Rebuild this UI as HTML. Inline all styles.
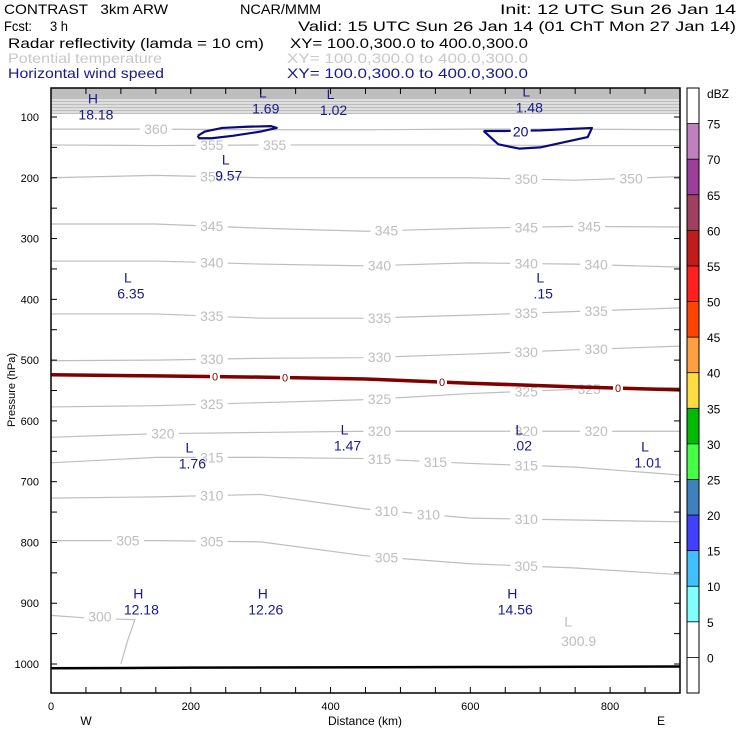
<!DOCTYPE html>
<html><head><meta charset="utf-8"><style>
body{margin:0;background:#fff;}
svg{display:block;font-family:"Liberation Sans",sans-serif;}
svg text{white-space:pre;}
</style></head><body>
<svg id="chart" width="740" height="740" xmlns="http://www.w3.org/2000/svg">
<g font-size="14" lengthAdjust="spacingAndGlyphs">
<text x="4" y="14" textLength="164" lengthAdjust="spacingAndGlyphs">CONTRAST   3km ARW</text>
<text x="240" y="14" textLength="81" lengthAdjust="spacingAndGlyphs">NCAR/MMM</text>
<text x="500" y="14" textLength="236" lengthAdjust="spacingAndGlyphs">Init: 12 UTC Sun 26 Jan 14</text>
<text x="4" y="31" textLength="64" lengthAdjust="spacingAndGlyphs">Fcst:     3 h</text>
<text x="298" y="31" textLength="438" lengthAdjust="spacingAndGlyphs">Valid: 15 UTC Sun 26 Jan 14 (01 ChT Mon 27 Jan 14)</text>
<text x="8" y="48" textLength="256" lengthAdjust="spacingAndGlyphs">Radar reflectivity (lamda = 10 cm)</text>
<text x="290" y="48" textLength="238" lengthAdjust="spacingAndGlyphs">XY= 100.0,300.0 to 400.0,300.0</text>
<text x="8" y="63" fill="#c8c8c8" textLength="154" lengthAdjust="spacingAndGlyphs">Potential temperature</text>
<text x="287" y="63" fill="#c8c8c8" textLength="241" lengthAdjust="spacingAndGlyphs">XY= 100.0,300.0 to 400.0,300.0</text>
<text x="8" y="78" fill="#1a1a8c" textLength="156" lengthAdjust="spacingAndGlyphs">Horizontal wind speed</text>
<text x="287" y="78" fill="#1a1a8c" textLength="241" lengthAdjust="spacingAndGlyphs">XY= 100.0,300.0 to 400.0,300.0</text>
</g>
<g id="plot"></g>
<g id="cbar"></g>
</svg>
<script>
const xKm = [0,150,300,450,600,750,900];
const thetaLevels = [360,355,350,345,340,335,330,325,320,315,310,305];
const th360 = [120,120,121,121,120,120,121];
const th355 = [146,147,146,146,146,147,147];
const th350 = [200,196,200,200,200,204,198];
const th345 = [276,276,283,288,283,280,281];
const th340 = [337,337,342,345,340,342,347];
const th335 = [424,424,431,431,426,420,414];
const th330 = [501,500,497,496,490,483,477];
const th325 = [577,575,570,565,555,548,545];
const th320 = [627,621,619,617,617,617,617];
const th315 = [669,660,660,662,670,676,689];
const th310 = [727,725,721,745,760,763,766];
const th305 = [797,797,799,822,835,842,853];
const thetaSeries = [th360,th355,th350,th345,th340,th335,th330,th325,th320,th315,th310,th305];
const thetaLabelKm = [[150],[230,320],[230,680,830],[230,480,680,770],[230,470,680,780],[230,470,680,780],[230,470,680,780],[230,470,680,770],[160,470,680,780],[230,470,550,680],[230,480,540,680],[110,230,480,680]];
const th300Km = [0,60,120,110,100];
const th300P = [920,925,927,960,1000];
const windZeroKm = [0,150,300,450,600,750,900];
const windZeroP = [524,526,528,531,538,544,549];
const jet1Km = [210,220,245,280,315,323,300,260,230,212,210];
const jet1P = [131,124,118,116,115,118,124,131,135,135,131];
const jet2Km = [619,650,700,774,768,740,700,670,640,619];
const jet2P = [123,123,122,118,133,140,150,152,145,123];
const extremaType = ['H','L','L','L','L','L','L','L','L','L','L','H','H','H'];
const extremaVal = ['18.18','1.69','1.02','1.48','9.57','6.35','.15','1.76','1.47','.02','1.01','12.18','12.26','14.56'];
const extremaKm = [60,303,400,680,250,110,700,198,420,670,850,125,303,660];
const extremaP = [78,68,70,66,178,372,372,652,622,622,650,892,892,892];
const pTicks = [100,200,300,400,500,600,700,800,900,1000];
const xTicks = [0,200,400,600,800];
const dbzLevels = [75,70,65,60,55,50,45,40,35,30,25,20,15,10,5,0];
const dbzColors = ['#c080c0','#9c3f9c','#a04060','#c01c1c','#ff2020','#ff4400','#ffa040','#ffdd40','#00bb00','#44ff44','#4080c0','#4040ff','#40c0ff','#80ffff'];

const NS='http://www.w3.org/2000/svg';
const X0=51,X1=680,Y0=88,Y1=693;
function xs(km){return X0+km*(X1-X0)/900;}
function ys(p){return 117+(p-100)*0.6078;}
function mk(tag,attrs,parent){const e=document.createElementNS(NS,tag);for(const k in attrs)e.setAttribute(k,attrs[k]);parent.appendChild(e);return e;}
function interp(arr,km){for(let i=0;i<xKm.length-1;i++){if(km<=xKm[i+1]){const t=(km-xKm[i])/(xKm[i+1]-xKm[i]);return arr[i]+t*(arr[i+1]-arr[i]);}}return arr[arr.length-1];}
const plot=document.getElementById('plot');
const clip=mk('clipPath',{id:'cp'},mk('defs',{},plot));
mk('rect',{x:X0,y:Y0,width:X1-X0,height:Y1-Y0},clip);
const inner=mk('g',{'clip-path':'url(#cp)'},plot);
const band=mk('rect',{x:X0,y:Y0,width:X1-X0,height:11,fill:'#bebebe'},inner);


for(let i=0;i<10;i++){const l=mk('line',{x1:X0,x2:X1,y1:100+i*1.5,y2:100+i*1.5,stroke:'#bebebe','stroke-width':1},inner);

}
thetaSeries.forEach((s,i)=>{
  const pts=xKm.map((k,j)=>xs(k)+','+ys(s[j])).join(' ');
  const pl=mk('polyline',{points:pts,fill:'none',stroke:'#bebebe','stroke-width':1.2},inner);
  
  
  thetaLabelKm[i].forEach(k=>{
    const y=ys(interp(s,k));
    mk('rect',{x:xs(k)-16,y:y-6,width:32,height:12,fill:'#fff'},inner);
    const t=mk('text',{x:xs(k),y:y+5,'text-anchor':'middle','font-size':14,fill:'#bebebe'},inner);
    t.textContent=thetaLevels[i];
    
    
  });
});
const p300=mk('polyline',{points:th300Km.map((k,j)=>xs(k)+','+ys(th300P[j])).join(' '),fill:'none',stroke:'#bebebe','stroke-width':1.2},inner);


mk('rect',{x:xs(70)-16,y:ys(922)-6,width:32,height:12,fill:'#fff'},inner);
const t300=mk('text',{x:xs(70),y:ys(922)+5,'text-anchor':'middle','font-size':14,fill:'#bebebe'},inner);t300.textContent='300';


const lowT=mk('text',{x:xs(740),y:ys(938),'text-anchor':'middle','font-size':14,fill:'#bebebe'},inner);lowT.textContent='L';


const lowV=mk('text',{x:xs(755),y:ys(962)+5,'text-anchor':'middle','font-size':14,fill:'#bebebe'},inner);lowV.textContent='300.9';


const wz=mk('polyline',{points:windZeroKm.map((k,j)=>xs(k)+','+ys(windZeroP[j])).join(' '),fill:'none',stroke:'#800000','stroke-width':3.5},inner);


[215,285,442,618].forEach(px=>{const k=(px-X0)*900/(X1-X0);const y=ys(interp(windZeroP,k));
  mk('rect',{x:px-5,y:y-5,width:10,height:10,fill:'#fff'},inner);
  const t=mk('text',{x:px,y:y+4,'text-anchor':'middle','font-size':11,fill:'#800000'},inner);t.textContent='0';
  
  });
[[jet1Km,jet1P],[jet2Km,jet2P]].forEach((j,i)=>{
  const pg=mk('polyline',{points:j[0].map((k,n)=>xs(k)+','+ys(j[1][n])).join(' '),fill:'none',stroke:'#0a0a80','stroke-width':2.2,'stroke-linejoin':'round'},inner);
  
  
});
mk('rect',{x:xs(672)-10,y:ys(122)-6,width:20,height:12,fill:'#fff'},inner);
const j20=mk('text',{x:xs(672),y:ys(122)+6,'text-anchor':'middle','font-size':14,fill:'#0a0a80'},inner);j20.textContent='20';


const gl=mk('polyline',{points:[[0,1007],[200,1006],[600,1005],[900,1004]].map(a=>xs(a[0])+','+ys(a[1])).join(' '),fill:'none',stroke:'#000','stroke-width':2.5},inner);


extremaType.forEach((t,i)=>{
  const x=xs(extremaKm[i]),y=ys(extremaP[i]);
  const a=mk('text',{x:x,y:y,'text-anchor':'middle','font-size':14,fill:'#1a1a8c'},inner);a.textContent=t;
  
  
  const b=mk('text',{x:x+3,y:y+16,'text-anchor':'middle','font-size':14,fill:'#1a1a8c'},inner);b.textContent=extremaVal[i];
  
  
});
const fr=mk('rect',{x:X0,y:Y0,width:X1-X0,height:Y1-Y0,fill:'none',stroke:'#000','stroke-width':1.5},plot);


for(let p=100;p<=1050;p+=50){const y=ys(p);if(y>Y1)break;
  mk('line',{x1:X0,x2:X0+6,y1:y,y2:y,stroke:'#000'},plot);mk('line',{x1:X1-6,x2:X1,y1:y,y2:y,stroke:'#000'},plot);}
pTicks.forEach(p=>{const t=mk('text',{x:X0-12,y:ys(p)+4,'text-anchor':'end','font-size':11},plot);t.textContent=p;
  
  });
for(let k=0;k<=900;k+=50){const x=xs(k);mk('line',{x1:x,x2:x,y1:Y1,y2:Y1-6,stroke:'#000'},plot);mk('line',{x1:x,x2:x,y1:Y0,y2:Y0+6,stroke:'#000'},plot);}
xTicks.forEach(k=>{const t=mk('text',{x:xs(k),y:710,'text-anchor':'middle','font-size':11},plot);t.textContent=k;
  
  });
const yt=mk('text',{x:15,y:390,'text-anchor':'middle','font-size':11,transform:'rotate(-90 15 390)'},plot);yt.textContent='Pressure (hPa)';


const xt=mk('text',{x:365,y:725,'text-anchor':'middle','font-size':12},plot);xt.textContent='Distance (km)';


const w=mk('text',{x:86,y:725,'text-anchor':'middle','font-size':12},plot);w.textContent='W';


const e=mk('text',{x:661,y:725,'text-anchor':'middle','font-size':12},plot);e.textContent='E';


const cb=document.getElementById('cbar');
const CY0=88,CY1=693,seg=(CY1-CY0)/17;
function cy(dbz){return CY0+seg+(75-dbz)/5*seg;}
dbzColors.forEach((c,i)=>{const r=mk('rect',{x:687,y:cy(dbzLevels[i]),width:12,height:seg,fill:c},cb);
  
  });
mk('rect',{x:687,y:CY0,width:12,height:CY1-CY0,fill:'none',stroke:'#000'},cb);
for(let i=1;i<17;i++)mk('line',{x1:687,x2:699,y1:CY0+i*seg,y2:CY0+i*seg,stroke:'#000','stroke-width':0.8},cb);
dbzLevels.forEach(d=>{const t=mk('text',{x:707,y:cy(d)+5,'font-size':12},cb);t.textContent=d;
  
  });
const u=mk('text',{x:707,y:98,'font-size':12},cb);u.textContent='dBZ';


</script>
</body></html>
